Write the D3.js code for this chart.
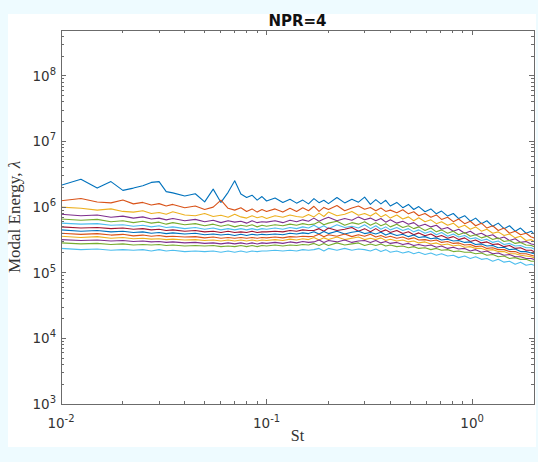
<!DOCTYPE html>
<html>
<head>
<meta charset="utf-8">
<script src="https://cdn.jsdelivr.net/npm/d3@7"></script>
<style>
  body { margin: 0; background: #eefbff; }
  svg { display: block; }
  .tick-label { font-family: "DejaVu Sans", sans-serif; font-size: 13.5px; fill: #333; }
  .axis-title { font-family: "Liberation Serif", serif; font-size: 16px; fill: #333; }
  .title { font-family: "DejaVu Sans", sans-serif; font-size: 15px; font-weight: bold; fill: #111; }
</style>
</head>
<body>
<div id="chart"></div>
<script>
var width = 538,
    height = 462;

var margin = {top: 30, right: 4, bottom: 58, left: 61},
    plotRight = width - margin.right,
    plotBottom = height - margin.bottom;

// Strouhal number grid
var St = [
  0.01, 0.0125, 0.015, 0.0175, 0.02, 0.0225, 0.025, 0.0275, 0.03, 0.0325,
  0.035, 0.04, 0.045, 0.05, 0.055, 0.06, 0.065, 0.07, 0.075, 0.08,
  0.085, 0.09, 0.095, 0.1, 0.11, 0.12, 0.13, 0.14, 0.15, 0.16,
  0.17, 0.18, 0.19, 0.2, 0.22, 0.24, 0.26, 0.28, 0.3, 0.32,
  0.34, 0.36, 0.38, 0.4, 0.43, 0.46, 0.49, 0.52, 0.55, 0.59,
  0.63, 0.67, 0.71, 0.76, 0.81, 0.86, 0.92, 0.98, 1.04, 1.11,
  1.18, 1.26, 1.34, 1.43, 1.52, 1.62, 1.72, 1.83, 1.94, 2.0
];

// modal energy values, in units of 1e4
var UNIT = 1e4;
var lambda1 = [
  215, 265, 195, 245, 180, 195, 212, 238, 245, 172,
  165, 148, 160, 120, 188, 118, 168, 252, 158, 140,
  152, 128, 145, 124, 138, 118, 132, 115, 128, 112,
  135, 117, 127, 113, 140, 116, 132, 119, 142, 110,
  130, 112, 127, 104, 118, 98, 110, 92, 102, 85,
  94, 79, 87, 73, 80, 67, 74, 61, 68, 56,
  62, 51, 57, 47, 52, 43, 48, 40, 43, 39
];
var lambda2 = [
  125, 135, 120, 116, 128, 112, 118, 108, 113, 104,
  110, 98, 104, 92, 100, 128, 96, 90, 98, 86,
  94, 84, 92, 86, 94, 84, 96, 86, 98, 88,
  103, 86, 99, 92, 106, 88, 97, 104, 93, 99,
  88, 97, 86, 90, 82, 91, 79, 85, 74, 80,
  70, 76, 65, 70, 60, 66, 56, 61, 52, 57,
  48, 52, 44, 48, 40, 43, 38, 40, 35, 34
];
var lambda3 = [
  100, 96, 90, 94, 86, 84, 88, 80, 83, 78,
  85, 76, 74, 80, 72, 75, 70, 78, 71, 68,
  74, 69, 72, 67, 74, 70, 76, 72, 70, 77,
  71, 81, 72, 84, 74, 78, 86, 75, 80, 73,
  82, 71, 77, 68, 76, 66, 71, 62, 69, 60,
  64, 56, 60, 53, 57, 49, 53, 46, 50, 43,
  46, 40, 42, 37, 39, 34, 36, 31, 32, 30
];
var lambda4 = [
  78, 74, 76, 70, 73, 68, 71, 66, 68, 64,
  67, 62, 65, 60, 63, 58, 62, 59, 61, 57,
  62, 58, 60, 59, 62, 58, 63, 60, 64, 61,
  68, 61, 66, 70, 62, 67, 63, 71, 64, 68,
  62, 67, 59, 64, 57, 61, 55, 58, 51, 55,
  50, 53, 46, 49, 43, 46, 40, 43, 38, 40,
  36, 38, 33, 35, 31, 33, 29, 30, 27.5, 27
];
var lambda5 = [
  66, 63, 65, 60, 62, 58, 61, 57, 59, 55,
  58, 54, 56, 52, 55, 51, 54, 50, 53, 51,
  54, 50, 53, 51, 54, 52, 55, 53, 56, 54,
  55, 60, 54, 57, 61, 53, 58, 55, 60, 53,
  58, 52, 56, 50, 55, 49, 52, 47, 50, 44,
  48, 42, 45, 40, 43, 38, 41, 36, 38, 34,
  36, 32, 34, 30, 31, 28, 29, 26.5, 26, 25
];
var lambda6 = [
  57, 55, 56, 53, 54, 51, 53, 50, 52, 49,
  50, 47, 49, 46, 48, 45, 47, 45, 47, 45,
  47, 45, 47, 46, 48, 46, 49, 47, 50, 48,
  53, 48, 52, 47, 54, 49, 51, 48, 54, 47,
  52, 46, 50, 45, 49, 44, 47, 42, 45, 40,
  43, 38, 41, 36, 39, 35, 37, 33, 34, 31,
  32.5, 29, 30.5, 27, 28, 25.5, 26, 24, 24, 23
];
var lambda7 = [
  50, 48, 49, 47, 48, 46, 47, 45, 46, 44,
  45, 43, 44, 42, 43, 41, 43, 41, 42, 41,
  43, 41, 42, 42, 43, 42, 44, 43, 45, 44,
  44, 47, 43, 48, 44, 46, 49, 43, 47, 42,
  47, 42, 45, 41, 44, 39.5, 42, 38, 40.5, 36.5,
  39, 35, 37, 33.5, 35.5, 32, 34, 30, 31.5, 28.5,
  29.5, 27, 27.5, 25, 26, 23.5, 24, 22, 22, 21
];
var lambda8 = [
  45, 43, 44, 42, 43, 41, 42, 40, 41, 39.5,
  40.5, 39, 40, 38, 39, 37.5, 38.5, 37, 38.5, 37,
  38.5, 37.5, 38.5, 38, 39, 38, 40, 39, 40.5, 39.5,
  42, 39, 42.5, 39.5, 43, 39, 41.5, 43, 39.5, 41,
  39, 41.5, 37.5, 40, 37, 38.5, 35.5, 37.5, 34.5, 35.5,
  33, 34, 31.5, 32.5, 30.5, 31, 29, 29.5, 27, 27.5,
  25.5, 26, 24, 24.5, 22.5, 23, 21, 21, 20, 19.5
];
var lambda9 = [
  40, 38.5, 39.5, 37.5, 38.5, 36.5, 37.5, 36, 37, 35.5,
  36, 35, 35.5, 34, 35, 33.5, 34.5, 33.5, 34.5, 33.5,
  34.5, 33.5, 34.5, 34, 35, 34, 35.5, 35, 36, 35.5,
  36, 38.5, 35.5, 38, 36, 39, 35.5, 38, 36, 38.5,
  35, 37, 34.5, 36, 33.5, 35, 32.5, 34, 31.5, 32,
  30.5, 31.5, 29, 30, 28, 28.5, 26.5, 27, 25, 25.5,
  23.5, 24, 22.5, 22.5, 21, 21, 19.5, 19.5, 18.5, 18
];
var lambda10 = [
  36, 34.5, 35.5, 33.5, 34.5, 33, 33.5, 32.5, 33, 32,
  32.5, 31.5, 32, 31, 31.5, 30.5, 31.5, 30.5, 31.5, 30.5,
  31.5, 30.5, 31.5, 31, 32, 31, 32.5, 31.5, 33, 32,
  34.5, 31.5, 34, 32, 35, 32, 33.5, 35, 32, 33.5,
  32, 34, 31, 32.5, 30.5, 31.5, 29.5, 30.5, 28.5, 29.5,
  27.5, 28.5, 26.5, 27.5, 25.5, 26.5, 24.5, 25, 23.5, 23.5,
  22, 22.5, 21, 21, 19.5, 19.5, 18.5, 18, 17.5, 17
];
var lambda11 = [
  32, 31, 31.5, 30.5, 31, 30, 30.5, 29.5, 30, 29,
  29.5, 28.5, 29, 28, 28.5, 27.5, 28.5, 27.5, 28.5, 27.5,
  28.5, 27.5, 28.5, 28, 29, 28, 29.5, 28.5, 30, 29,
  29.5, 31.5, 29, 31, 29.5, 31.5, 29, 30.5, 31, 29,
  31, 28.5, 30, 28, 29, 27, 28, 26, 27, 25.5,
  26.5, 24.5, 25.5, 23.5, 24.5, 23, 23.5, 21.5, 22.5, 20.5,
  21.5, 19.5, 20, 18.5, 19, 17.5, 17.5, 16.5, 16.5, 16
];
var lambda12 = [
  28.5, 27.5, 28, 27, 27.5, 26.5, 27, 26.5, 27, 26,
  26.5, 25.5, 26, 25.5, 26, 25, 25.5, 25, 26, 25,
  26, 25, 26, 25.5, 26.5, 25.5, 26.5, 26, 27, 26.5,
  28, 26, 28, 26, 28.5, 26.5, 27.5, 28.5, 26, 27.5,
  26, 27.5, 25.5, 26.5, 25, 25.5, 24, 25, 23.5, 24,
  22.5, 23.5, 22, 22.5, 21, 21.5, 20.5, 20.5, 19.5, 20,
  18.5, 19, 17.5, 18, 16.5, 17, 16, 16, 15, 15
];
var lambda13 = [
  23.5, 22.5, 23, 22, 22.5, 22, 22.5, 21.5, 22.5, 21.5,
  22, 21, 21.5, 21, 21.5, 20.5, 21.5, 20.5, 21.5, 20.5,
  21.5, 21, 21.5, 21.5, 22, 21.5, 22, 21.5, 22.5, 22,
  22.5, 23.5, 21.5, 23.5, 22, 23.5, 22, 23, 22.5, 21.5,
  23, 21, 22.5, 20.5, 21.5, 20, 21, 19.5, 20.5, 19,
  20, 18.5, 19.5, 18, 18.5, 17, 18, 16.5, 17.5, 16,
  16.5, 15, 16, 14.5, 15, 13.5, 14.5, 13, 13.5, 13
];
var modes = [lambda1, lambda2, lambda3, lambda4, lambda5, lambda6, lambda7,
             lambda8, lambda9, lambda10, lambda11, lambda12, lambda13];

// matlab default colour order
var colors = ["#0072BD", "#D95319", "#EDB120", "#7E2F8E", "#77AC30", "#4DBEEE", "#A2142F"];

var xMajor = [0.01, 0.1, 1];
var yMajor = [1e3, 1e4, 1e5, 1e6, 1e7, 1e8];

var svg = d3.select("#chart").append("svg")
  .attr("width", width)
  .attr("height", height);

// figure background
svg.append("rect")
  .attr("width", width).attr("height", height)
  .attr("fill", "#eefbff");
svg.append("rect")
  .attr("x", 8).attr("y", 14)
  .attr("width", 528).attr("height", 433)
  .attr("fill", "#fff");

var x = d3.scaleLog()
  .domain([0.01, 2])
  .range([margin.left, plotRight]);
var y = d3.scaleLog()
  .domain([1e3, 5e8])
  .range([plotBottom, margin.top]);

svg.append("clipPath").attr("id", "clip")
  .append("rect")
    .attr("x", margin.left).attr("y", margin.top)
    .attr("width", plotRight - margin.left)
    .attr("height", plotBottom - margin.top);

//draw modes
var line = d3.line()
  .x(function(d, i) { return x(St[i]); })
  .y(function(d) { return y(d * UNIT); });

svg.append("g")
  .attr("clip-path", "url(#clip)")
  .selectAll("path")
  .data(modes)
  .enter().append("path")
    .attr("d", line)
    .attr("fill", "none")
    .attr("stroke", function(d, i) { return colors[i % colors.length]; })
    .attr("stroke-width", 1.1)
    .attr("stroke-linejoin", "round");

//ticks, all pointing into the box
var axisColor = "#6b6b6b";
var xTicks = x.ticks().filter(function(v) { return v >= 0.01 && v <= 2; });
var yTicks = y.ticks();
function isMajor(list, v) {
  return list.some(function(m) { return Math.abs(m - v) / m < 1e-6; });
}

var axes = svg.append("g")
  .attr("stroke", axisColor)
  .attr("shape-rendering", "crispEdges");

axes.selectAll(".xt").data(xTicks).enter().append("line")
  .attr("x1", function(d) { return x(d); }).attr("x2", function(d) { return x(d); })
  .attr("y1", plotBottom)
  .attr("y2", function(d) { return plotBottom - (isMajor(xMajor, d) ? 5 : 3); });
axes.selectAll(".xtt").data(xTicks).enter().append("line")
  .attr("x1", function(d) { return x(d); }).attr("x2", function(d) { return x(d); })
  .attr("y1", margin.top)
  .attr("y2", function(d) { return margin.top + (isMajor(xMajor, d) ? 5 : 3); });
axes.selectAll(".yt").data(yTicks).enter().append("line")
  .attr("y1", function(d) { return y(d); }).attr("y2", function(d) { return y(d); })
  .attr("x1", margin.left)
  .attr("x2", function(d) { return margin.left + (isMajor(yMajor, d) ? 5 : 3); });
axes.selectAll(".ytr").data(yTicks).enter().append("line")
  .attr("y1", function(d) { return y(d); }).attr("y2", function(d) { return y(d); })
  .attr("x1", plotRight)
  .attr("x2", function(d) { return plotRight - (isMajor(yMajor, d) ? 5 : 3); });

axes.append("rect")
  .attr("x", margin.left).attr("y", margin.top)
  .attr("width", plotRight - margin.left)
  .attr("height", plotBottom - margin.top)
  .attr("fill", "none");

//tick labels as 10^n
function power(sel) {
  sel.append("tspan").text("10");
  sel.append("tspan")
    .attr("dy", -6)
    .attr("font-size", "10px")
    .text(function(d) { return Math.round(Math.log10(d)); });
}

svg.selectAll(".ylab").data(yMajor).enter().append("text")
  .attr("class", "tick-label")
  .attr("text-anchor", "end")
  .attr("x", margin.left - 5)
  .attr("y", function(d) { return y(d) + 5; })
  .call(power);

svg.selectAll(".xlab").data(xMajor).enter().append("text")
  .attr("class", "tick-label")
  .attr("text-anchor", "middle")
  .attr("x", function(d) { return x(d); })
  .attr("y", plotBottom + 24)
  .call(power);

//titles
svg.append("text")
  .attr("class", "title")
  .attr("text-anchor", "middle")
  .attr("x", (margin.left + plotRight) / 2)
  .attr("y", 26)
  .text("NPR=4");

svg.append("text")
  .attr("class", "axis-title")
  .attr("text-anchor", "middle")
  .attr("x", (margin.left + plotRight) / 2)
  .attr("y", plotBottom + 37)
  .text("St");

var yt = svg.append("text")
  .attr("class", "axis-title")
  .attr("text-anchor", "middle")
  .style("font-size", "17px")
  .attr("transform", "translate(20," + ((margin.top + plotBottom) / 2) + "), rotate(-90)");
yt.append("tspan").text("Modal Energy, ");
yt.append("tspan").attr("font-style", "italic").text("λ");
</script>
</body>
</html>
